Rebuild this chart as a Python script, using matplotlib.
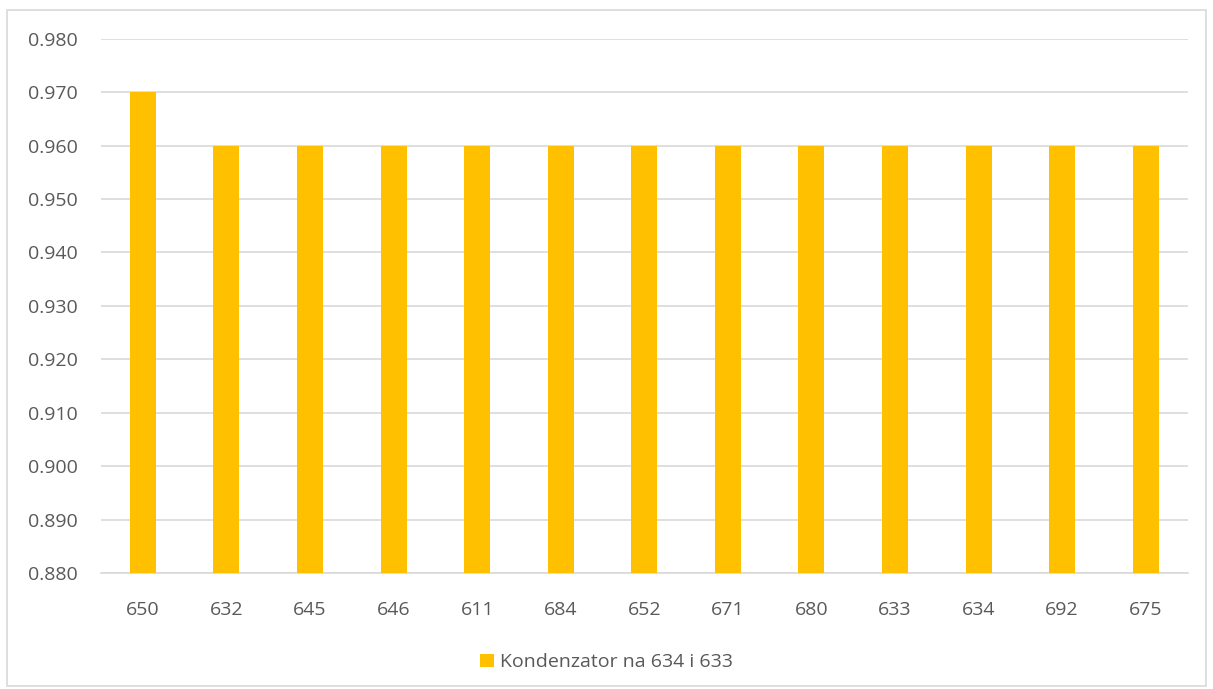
import matplotlib
matplotlib.use("Agg")
import matplotlib.pyplot as plt
from matplotlib.patches import Rectangle
from matplotlib.ticker import FormatStrFormatter

categories = ["650", "632", "645", "646", "611", "684", "652", "671", "680", "633", "634", "692", "675"]
values = [0.970, 0.960, 0.960, 0.960, 0.960, 0.960, 0.960, 0.960, 0.960, 0.960, 0.960, 0.960, 0.960]
series_name = "Kondenzator na 634 i 633"

BAR_COLOR = "#FFC000"
GRID_COLOR = "#D9D9D9"
TEXT_COLOR = "#595959"

plt.rcParams["font.family"] = ["Open Sans", "DejaVu Sans"]

fig = plt.figure(figsize=(12.13, 6.89), dpi=100)
ax = fig.add_axes([0.0833, 0.168, 0.8957, 0.776])

x = list(range(len(categories)))
ax.bar(x, [v - 0.88 for v in values], bottom=0.88, width=0.31, color=BAR_COLOR, label=series_name, zorder=3)

ax.set_xlim(-0.5, len(categories) - 0.5)
ax.set_ylim(0.88, 0.98)
ax.set_yticks([0.88 + 0.01 * i for i in range(11)])
ax.yaxis.set_major_formatter(FormatStrFormatter("%.3f"))
ax.set_xticks(x)
ax.set_xticklabels(categories)

ax.grid(axis="y", color=GRID_COLOR, linewidth=1.2, zorder=0)
for side in ["top", "right", "left"]:
    ax.spines[side].set_visible(False)
ax.spines["bottom"].set_color(GRID_COLOR)
ax.spines["bottom"].set_linewidth(1.2)
ax.tick_params(axis="both", length=0, labelsize=14, colors=TEXT_COLOR)
ax.tick_params(axis="y", pad=17)
ax.tick_params(axis="x", pad=20)

leg = fig.legend(loc="center", bbox_to_anchor=(0.5, 0.039), frameon=False, fontsize=14,
                 handlelength=0.7, handleheight=0.7, handletextpad=0.3)
for t in leg.get_texts():
    t.set_color(TEXT_COLOR)

fig.patches.append(Rectangle((7 / 1213, 3 / 689), 1 - 14 / 1213, 1 - 13 / 689, transform=fig.transFigure,
                             fill=False, edgecolor=GRID_COLOR, linewidth=1.2))

fig.savefig("out.png", dpi=100)
